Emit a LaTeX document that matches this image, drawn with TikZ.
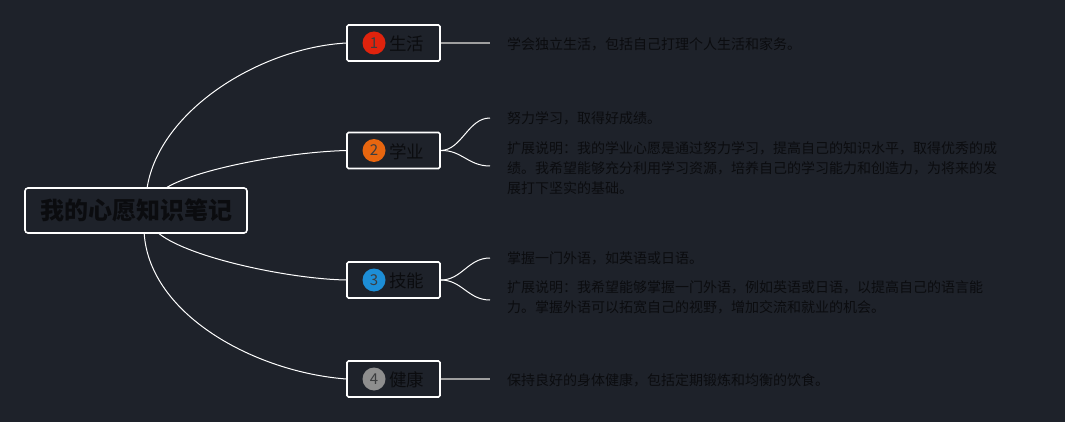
\documentclass[tikz,border=0pt]{standalone}
\usepackage{fontspec}
\setmainfont{Noto Sans CJK SC}
\definecolor{bg}{HTML}{1E222A}
\definecolor{ink}{HTML}{0B0C0F}
\definecolor{cA}{HTML}{E0230D}
\definecolor{cB}{HTML}{E8660F}
\definecolor{cC}{HTML}{1D8ED6}
\definecolor{cD}{HTML}{8E8E8E}
\begin{document}
\begin{tikzpicture}[x=1pt,y=-1pt,
  rootbox/.style={draw=white,line width=1.6pt,rounded corners=3pt,minimum width=222pt,minimum height=45pt,inner sep=0pt,text=ink,font=\bfseries\fontsize{24}{24}\selectfont},
  branchbox/.style={draw=white,line width=1.6pt,rounded corners=1.5pt,minimum width=93pt,minimum height=36pt,inner sep=0pt},
  badge/.style={circle,minimum size=23pt,inner sep=0pt,text=ink!80!white,font=\fontsize{15}{15}\selectfont},
  blabel/.style={anchor=west,inner sep=0pt,text=ink,font=\fontsize{17.5}{17.5}\selectfont},
  leaf/.style={anchor=west,inner sep=0pt,text=ink,font=\fontsize{14}{14}\selectfont},
  leafpar/.style={anchor=north west,inner sep=0pt,text=ink,align=left,font=\fontsize{14}{20}\selectfont},
  conn/.style={white,line width=1pt},
  stub/.style={gray!75,line width=1.6pt}]
\fill[bg] (0,0) rectangle (1065,422);
\useasboundingbox (0,0) rectangle (1065,422);

% root
\node[rootbox] (root) at (136,210.5) {我的心愿知识笔记};

% branch boxes
\node[branchbox] (b1) at (393.5,43) {};
\node[branchbox] (b2) at (393.5,150.5) {};
\node[branchbox] (b3) at (393.5,280) {};
\node[branchbox] (b4) at (393.5,379) {};

\node[badge,fill=cA] (c1) at (374,43) {1};
\node[badge,fill=cB] (c2) at (374,150.5) {2};
\node[badge,fill=cC] (c3) at (374,280) {3};
\node[badge,fill=cD] (c4) at (374,379) {4};

\node[blabel] (l1) at (389,44) {生活};
\node[blabel] (l2) at (389,151.5) {学业};
\node[blabel] (l3) at (389,281) {技能};
\node[blabel] (l4) at (389,380) {健康};

% root connectors
\draw[conn] ([xshift=123pt]root.north west) .. controls (160,110) and (260,48) .. (b1.west);
\draw[conn] ([xshift=143pt]root.north west) .. controls (200,168) and (290,152) .. (b2.west);
\draw[conn] ([xshift=135pt]root.south west) .. controls (190,258) and (290,279) .. (b3.west);
\draw[conn] ([xshift=120pt]root.south west) .. controls (150,315) and (255,372) .. (b4.west);

% leaves
\coordinate (e1) at (490,43);
\coordinate (e2a) at (490,118);
\coordinate (e2b) at (490,166);
\coordinate (e3a) at (490,258);
\coordinate (e3b) at (490,300);
\coordinate (e4) at (490,379);

\draw[stub] (b1.east) -- (e1);
\draw[stub] (b4.east) -- (e4);
\draw[conn] (b2.east) .. controls (462,150) and (468,118) .. (e2a);
\draw[conn] (b2.east) .. controls (462,150) and (468,166) .. (e2b);
\draw[conn] (b3.east) .. controls (462,280) and (468,258) .. (e3a);
\draw[conn] (b3.east) .. controls (462,280) and (468,300) .. (e3b);

\node[leaf] (t1) at (507,44) {学会独立生活，包括自己打理个人生活和家务。};
\node[leaf] (t2a) at (507,118) {努力学习，取得好成绩。};
\node[leafpar] (t2b) at (507,141) {扩展说明：我的学业心愿是通过努力学习，提高自己的知识水平，取得优秀的成\\绩。我希望能够充分利用学习资源，培养自己的学习能力和创造力，为将来的发\\展打下坚实的基础。};
\node[leaf] (t3a) at (507,258) {掌握一门外语，如英语或日语。};
\node[leafpar] (t3b) at (507,280.5) {扩展说明：我希望能够掌握一门外语，例如英语或日语，以提高自己的语言能\\力。掌握外语可以拓宽自己的视野，增加交流和就业的机会。};
\node[leaf] (t4) at (507,380) {保持良好的身体健康，包括定期锻炼和均衡的饮食。};
\end{tikzpicture}
\end{document}
